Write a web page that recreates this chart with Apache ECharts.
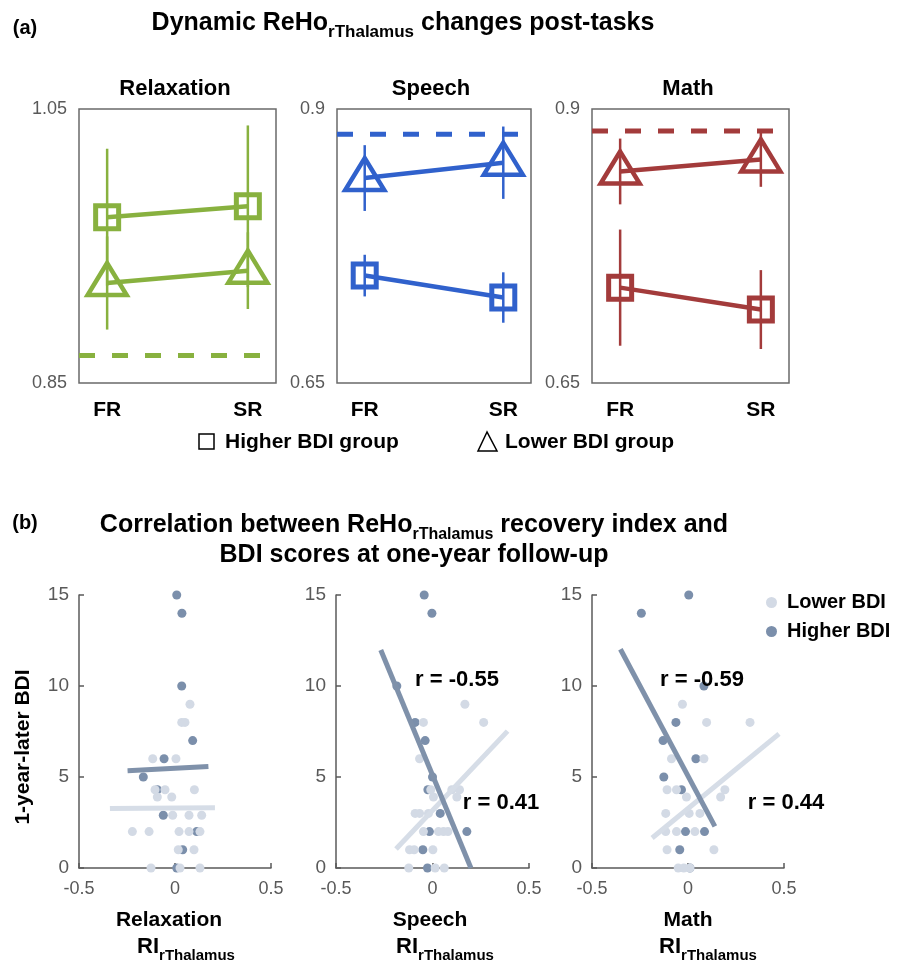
<!DOCTYPE html>
<html><head><meta charset="utf-8">
<script src="https://cdn.jsdelivr.net/npm/echarts@6/dist/echarts.min.js"></script>
<style>html,body{margin:0;padding:0;background:#fff}#c{width:914px;height:963px}</style>
</head><body><div id="c"></div>
<script>
const FF = "'Liberation Sans', Arial, Helvetica, sans-serif";

// ---------- Panel (a) data ----------
const tasks = ['Relaxation', 'Speech', 'Math'];
const timeLabels = ['FR', 'SR'];
const timePos = [1, 2];
const yRangeA = [[0.85, 1.05], [0.65, 0.9], [0.65, 0.9]];
const higherMean = [[0.971, 0.979], [0.748, 0.728], [0.737, 0.717]];
const higherErr  = [[0.050, 0.059], [0.019, 0.023], [0.053, 0.036]];
const lowerMean  = [[0.923, 0.932], [0.837, 0.851], [0.843, 0.854]];
const lowerErr   = [[0.034, 0.028], [0.030, 0.033], [0.030, 0.025]];
const baseline   = [0.870, 0.877, 0.880];
const taskColors = ['#88b13f', '#3061cc', '#a33b3b'];

// ---------- Panel (b) data ----------
const xTicksB = [-0.5, 0, 0.5];
const yTicksB = [0, 5, 10, 15];
const relaxHigherPts = [[0.009,15],[0.036,14],[0.035,10],[0.092,7],[-0.057,6],[-0.165,5],[-0.092,4.3],[-0.061,2.9],[0.113,2],[0.04,1],[0.009,0]];
const relaxLowerPts = [[0.078,9],[0.035,8],[0.052,8],[-0.116,6],[0.005,6],[-0.104,4.3],[-0.052,4.3],[0.101,4.3],[-0.092,3.9],[-0.017,3.9],[-0.012,2.9],[0.073,2.9],[0.139,2.9],[-0.222,2],[-0.135,2],[0.021,2],[0.073,2],[0.13,2],[0.017,1],[0.099,1],[-0.125,0],[0.026,0],[0.13,0]];
const speechHigherPts = [[-0.043,15],[-0.003,14],[-0.185,10],[-0.09,8],[-0.038,7],[0,5],[-0.024,4.3],[0.04,3],[-0.016,2],[0.178,2],[-0.05,1],[-0.026,0]];
const speechLowerPts = [[0.168,9],[0.265,8],[-0.047,8],[-0.067,6],[-0.009,4.3],[0.1,4.3],[0.14,4.3],[0.005,3.9],[0.126,3.9],[-0.09,3],[-0.067,3],[-0.021,3],[-0.047,2],[0.031,2],[0.057,2],[0.08,2],[-0.119,1],[-0.095,1],[0.002,1],[-0.123,0],[0.014,0],[0.061,0]];
const mathHigherPts = [[0.004,15],[-0.243,14],[0.083,10],[-0.063,8],[-0.13,7],[0.041,6],[-0.126,5],[-0.034,4.3],[-0.013,2],[0.086,2],[-0.043,1],[0.01,0]];
const mathLowerPts = [[-0.029,9],[0.097,8],[0.323,8],[-0.086,6],[0.083,6],[-0.109,4.3],[-0.06,4.3],[0.192,4.3],[-0.008,3.9],[0.17,3.9],[-0.116,3],[0.006,3],[0.062,3],[-0.116,2],[-0.06,2],[0.036,2],[-0.109,1],[0.135,1],[-0.051,0],[-0.022,0],[0.01,0]];
const relaxHigherFit = [[-0.247,5.34],[0.174,5.58]];
const relaxLowerFit  = [[-0.339,3.27],[0.208,3.31]];
const speechHigherFit = [[-0.268,11.98],[0.199,0]];
const speechLowerFit  = [[-0.189,1.04],[0.389,7.52]];
const mathHigherFit = [[-0.352,12.02],[0.14,2.29]];
const mathLowerFit  = [[-0.187,1.65],[0.474,7.37]];
const rLabels = ['r = -0.55', 'r = 0.41', 'r = -0.59', 'r = 0.44'];
const groupNames = ['Lower BDI', 'Higher BDI'];
const darkColor = '#7b8fab', lightColor = '#d3dae5';
const darkLine = '#7f91aa', lightLine = '#d6dde7';

// ---------- layout ----------
const gridsA = [
  {left: 79, top: 109, width: 197, height: 274},
  {left: 337, top: 109, width: 194, height: 274},
  {left: 592, top: 109, width: 197, height: 274}
];
const gridsB = [
  {left: 79, top: 595, width: 192, height: 273},
  {left: 336, top: 595, width: 193, height: 273},
  {left: 592, top: 595, width: 192, height: 273}
];

const grid = [], xAxis = [], yAxis = [], series = [];

gridsA.forEach((g, i) => {
  grid.push(Object.assign({show: true, borderColor: '#6a6a6a', borderWidth: 1.5, backgroundColor: 'transparent'}, g));
  xAxis.push({type: 'value', gridIndex: i, min: 0.8, max: 2.2,
    axisLine: {show: false}, axisTick: {show: false}, splitLine: {show: false},
    axisLabel: {customValues: timePos, formatter: v => timeLabels[timePos.indexOf(v)] || '',
      fontFamily: FF, fontWeight: 'bold', fontSize: 21, color: '#000', margin: 17}});
  yAxis.push({type: 'value', gridIndex: i, min: yRangeA[i][0], max: yRangeA[i][1],
    axisLine: {show: false}, axisTick: {show: false}, splitLine: {show: false},
    axisLabel: {customValues: yRangeA[i], formatter: v => String(v),
      fontFamily: FF, fontSize: 18, color: '#595959', margin: 12}});
});
gridsB.forEach((g, i) => {
  grid.push(Object.assign({}, g));
  xAxis.push({type: 'value', gridIndex: 3 + i, min: xTicksB[0], max: xTicksB[2], interval: 0.5,
    axisLine: {show: true, onZero: false, lineStyle: {color: '#5a5a5a', width: 1.5}},
    axisTick: {show: true, inside: true, length: 5, lineStyle: {color: '#5a5a5a', width: 1.5}},
    splitLine: {show: false},
    axisLabel: {fontFamily: FF, fontSize: 18, color: '#595959', margin: 12}});
  yAxis.push({type: 'value', gridIndex: 3 + i, min: yTicksB[0], max: yTicksB[3], interval: 5,
    axisLine: {show: true, onZero: false, lineStyle: {color: '#5a5a5a', width: 1.5}},
    axisTick: {show: true, inside: true, length: 5, lineStyle: {color: '#5a5a5a', width: 1.5}},
    splitLine: {show: false},
    axisLabel: {fontFamily: FF, fontSize: 19, color: '#595959', margin: 10}});
});

// panel (a) series
function errSeries(idx, means, errs, color) {
  return {type: 'custom', xAxisIndex: idx, yAxisIndex: idx, z: 6, silent: true,
    data: timePos.map((x, k) => [x, means[k] - errs[k], means[k] + errs[k]]),
    renderItem: (params, api) => {
      const p1 = api.coord([api.value(0), api.value(1)]);
      const p2 = api.coord([api.value(0), api.value(2)]);
      return {type: 'line', shape: {x1: p1[0], y1: p1[1], x2: p2[0], y2: p2[1]},
        style: {stroke: color, lineWidth: 2.5}};
    }};
}
function markerSeries(idx, means, shape, color) {
  return {type: 'custom', xAxisIndex: idx, yAxisIndex: idx, z: 5, silent: true,
    data: timePos.map((x, k) => [x, means[k]]),
    renderItem: (params, api) => {
      const p = api.coord([api.value(0), api.value(1)]);
      if (shape === 'rect') {
        return {type: 'rect', shape: {x: p[0] - 11.5, y: p[1] - 11.5, width: 23, height: 23},
          style: {fill: 'none', stroke: color, lineWidth: 5}};
      }
      return {type: 'polygon', shape: {points: [[p[0], p[1] - 20], [p[0] - 19.5, p[1] + 12], [p[0] + 19.5, p[1] + 12]]},
        style: {fill: 'none', stroke: color, lineWidth: 4.5, lineJoin: 'miter'}};
    }};
}
tasks.forEach((t, i) => {
  const c = taskColors[i];
  series.push({type: 'line', xAxisIndex: i, yAxisIndex: i, symbol: 'none', silent: true, z: 2,
    data: [[0.8, baseline[i]], [2.13, baseline[i]]],
    lineStyle: {color: c, width: 5, type: [16, 17], cap: 'butt'}});
  [[higherMean[i], higherErr[i], 'rect'], [lowerMean[i], lowerErr[i], 'tri']].forEach(([m, e, sh]) => {
    series.push({type: 'line', xAxisIndex: i, yAxisIndex: i, symbol: 'none', silent: true, z: 3,
      data: timePos.map((x, k) => [x, m[k]]), lineStyle: {color: c, width: 4.5}});
    series.push(markerSeries(i, m, sh, c));
    series.push(errSeries(i, m, e, c));
  });
});

// panel (b) series
const ptsB = [[relaxLowerPts, relaxHigherPts], [speechLowerPts, speechHigherPts], [mathLowerPts, mathHigherPts]];
const fitsB = [[relaxLowerFit, relaxHigherFit], [speechLowerFit, speechHigherFit], [mathLowerFit, mathHigherFit]];
ptsB.forEach((pair, i) => {
  const idx = 3 + i;
  series.push({name: groupNames[1], type: 'scatter', xAxisIndex: idx, yAxisIndex: idx, symbolSize: 9, z: 2,
    data: pair[1], itemStyle: {color: darkColor, opacity: 1}});
  series.push({name: groupNames[0], type: 'scatter', xAxisIndex: idx, yAxisIndex: idx, symbolSize: 9, z: 3,
    data: pair[0], itemStyle: {color: lightColor, opacity: 1}});
  series.push({name: 'fitL' + i, type: 'line', xAxisIndex: idx, yAxisIndex: idx, symbol: 'none', z: 4,
    data: fitsB[i][0], lineStyle: {color: lightLine, width: 5}});
  series.push({name: 'fitH' + i, type: 'line', xAxisIndex: idx, yAxisIndex: idx, symbol: 'none', z: 5,
    data: fitsB[i][1], lineStyle: {color: darkLine, width: 5}});
});

// ---------- texts ----------
function txt(x, y, text, size, extra) {
  return {type: 'text', x: x, y: y, silent: true, z: 20,
    style: Object.assign({text: text, fontFamily: FF, fontWeight: 'bold', fontSize: size, fill: '#000',
      align: 'center', verticalAlign: 'middle', textAlign: 'center', textVerticalAlign: 'middle'}, extra || {})};
}
function subTxt(x, y, parts, mainSize, subSize, lh) {
  const text = parts.map(p => '{' + (p[1] ? 's' : 'm') + '|' + p[0] + '}').join('');
  return txt(x, y, text, mainSize, {rich: {
    m: {fontFamily: FF, fontWeight: 'bold', fontSize: mainSize, lineHeight: lh, fill: '#000'},
    s: {fontFamily: FF, fontWeight: 'bold', fontSize: subSize, lineHeight: subSize, verticalAlign: 'bottom', fill: '#000'}
  }});
}
const graphic = [
  txt(25, 28, '(a)', 20),
  subTxt(403, 23, [['Dynamic ReHo'], ['rThalamus', 1], [' changes post-tasks']], 25, 17, 36),
  txt(175, 89, tasks[0], 22), txt(431, 89, tasks[1], 22), txt(688, 89, tasks[2], 22),
  {type: 'rect', shape: {x: 199, y: 434, width: 15, height: 15}, style: {fill: 'none', stroke: '#000', lineWidth: 1.5}},
  txt(225, 442, 'Higher BDI group', 21, {align: 'left', textAlign: 'left'}),
  {type: 'polygon', shape: {points: [[487, 432], [478, 451], [497, 451]]}, style: {fill: 'none', stroke: '#000', lineWidth: 1.5}},
  txt(505, 442, 'Lower BDI group', 21, {align: 'left', textAlign: 'left'}),
  txt(25, 523, '(b)', 20),
  subTxt(414, 525, [['Correlation between ReHo'], ['rThalamus', 1], [' recovery index and']], 25, 16, 35),
  txt(414, 555, 'BDI scores at one-year follow-up', 25),
  Object.assign(txt(23, 747, '1-year-later BDI', 21), {rotation: Math.PI / 2}),
  txt(457, 680, rLabels[0], 22), txt(501, 803, rLabels[1], 22),
  txt(702, 680, rLabels[2], 22), txt(786, 803, rLabels[3], 22),
  txt(169, 920, tasks[0], 21), txt(430, 920, tasks[1], 21), txt(688, 920, tasks[2], 21),
  subTxt(186, 947, [['RI'], ['rThalamus', 1]], 22, 15, 32),
  subTxt(445, 947, [['RI'], ['rThalamus', 1]], 22, 15, 32),
  subTxt(708, 947, [['RI'], ['rThalamus', 1]], 22, 15, 32)
];

const chart = echarts.init(document.getElementById('c'), null, {renderer: 'canvas'});
chart.setOption({
  animation: false,
  backgroundColor: '#fff',
  grid, xAxis, yAxis, series, graphic,
  legend: {data: groupNames, orient: 'vertical', left: 761, top: 587, itemWidth: 11, itemHeight: 11, itemGap: 8,
    icon: 'circle', selectedMode: false,
    textStyle: {fontFamily: FF, fontWeight: 'bold', fontSize: 20, color: '#000', lineHeight: 21, padding: [0, 0, 0, 5]}}
});
</script></body></html>
